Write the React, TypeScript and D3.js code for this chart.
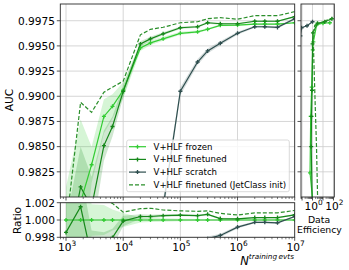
import React, { useEffect, useRef } from 'react';
import * as d3 from 'd3';

// training set sizes
const nTrain = [1e3, 1.8e3, 2.8e3, 4.6e3, 6.5e3, 1e4, 2e4, 3e4, 5e4, 1e5, 2e5, 3e5, 5e5, 1e6, 2e6, 3e6, 5e6, 1e7];
const aucFrozen = [0.975, 0.9795, 0.9832, 0.988, 0.989, 0.9906, 0.9948, 0.9953, 0.9957, 0.99625, 0.9964, 0.99665, 0.99704, 0.99707, 0.99717, 0.99717, 0.99717, 0.9973];
const stdFrozen = [0.006, 0.0082, 0.0018, 0.0017, 0.0012, 0.0008, 0.0003, 0.00022, 0.0002, 0.00015, 0.00012, 0.0001, 0.0001, 0.0001, 0.00008, 0.00008, 0.00008, 0.00008];
const aucFinetuned = [0.9736, 0.981, 0.979, 0.9851, 0.987, 0.99048, 0.9952, 0.9957, 0.9962, 0.9968, 0.9969, 0.9973, 0.9972, 0.9972, 0.99745, 0.99745, 0.99745, 0.9979];
const stdFinetuned = [0.004, 0.004, 0.003, 0.0015, 0.001, 0.0006, 0.00025, 0.0002, 0.00015, 0.00012, 0.0001, 0.0001, 0.0001, 0.00008, 0.00008, 0.00008, 0.00008, 0.00008];
const aucJetClass = [0.977, 0.9894, 0.9884, 0.9904, 0.9909, 0.9915, 0.9961, 0.99665, 0.99685, 0.9973, 0.9974, 0.9977, 0.9978, 0.99765, 0.998, 0.998, 0.998, 0.9984];
const nScratch = [3e4, 5e4, 1e5, 2e5, 3e5, 5e5, 1e6, 2e6, 3e6, 5e6, 1e7];
const aucScratch = [0.97, 0.979, 0.9905, 0.9934, 0.9945, 0.99526, 0.99625, 0.9969, 0.9969, 0.99684, 0.9977];
const stdScratch = [0.001, 0.0008, 0.0004, 0.0003, 0.00025, 0.0002, 0.00015, 0.0001, 0.0001, 0.0001, 0.0001];

// data efficiency panel (efficiency, AUC)
const deFrozenEff = [1.2, 0.58, 0.67, 0.84, 1.05, 1.2, 2.5, 10, 45];
const deFrozenAuc = [0.979, 0.9824, 0.988, 0.9909, 0.9946, 0.9954, 0.9971, 0.99725, 0.9973];
const deFinetunedEff = [0.95, 0.75, 0.8, 0.9, 1.0, 1.1, 3, 15, 70];
const deFinetunedAuc = [0.979, 0.985, 0.988, 0.9906, 0.9952, 0.9963, 0.99725, 0.9974, 0.9977];
const deJetClassEff = [3.2, 2.4, 1.7, 1.3, 1.15, 1.6, 6, 30, 90];
const deJetClassAuc = [0.979, 0.985, 0.99, 0.994, 0.9962, 0.997, 0.9973, 0.9976, 0.9978];
const deScratchEff = [0.07, 0.09, 0.3, 1.0];
const deScratchAuc = [0.996, 0.9968, 0.997, 0.9974];

// ticks
const aucTicks = [0.9825, 0.985, 0.9875, 0.99, 0.9925, 0.995, 0.9975];
const ratioTicks = [0.998, 1.0, 1.002];
const nTickExp = [3, 4, 5, 6, 7];
const deTickExp = [-1, 0, 1, 2];
const deLabelExp = [0, 2];

const cFrozen = '#33cc33';
const cFinetuned = '#16881a';
const cJetClass = '#2b8f2b';
const cScratch = '#2f4f4f';
const font = "'DejaVu Sans', sans-serif";

const App = () => {
  const ref = useRef<SVGSVGElement>(null);

  useEffect(() => {
    drawChart();
    return () => {
      d3.select(ref.current).selectAll('*').remove();
    };
  }, []);

  const drawChart = () => {
    const svg = d3.select(ref.current);
    svg.selectAll('*').remove();

    const main = { x0: 60.3, x1: 294.7, y0: 4, y1: 197 };
    const rat = { x0: 60.3, x1: 294.7, y0: 202.7, y1: 237.3 };
    const de = { x0: 301, x1: 334.3, y0: 4, y1: 197 };

    const x = d3.scaleLog().domain([10 ** 2.9, 1e7]).range([main.x0, main.x1]);
    const y = d3.scaleLinear().domain([0.98, 0.99916]).range([main.y1, main.y0]);
    const yr = d3.scaleLinear().domain([0.998, 1.002]).range([rat.y1, rat.y0]);
    const xd = d3.scaleLog().domain([10 ** -1.1, 10 ** 2.08]).range([de.x0, de.x1]);

    const defs = svg.append('defs');
    const clip = (id: string, p: any) =>
      defs.append('clipPath').attr('id', id).append('rect')
        .attr('x', p.x0).attr('y', p.y0).attr('width', p.x1 - p.x0).attr('height', p.y1 - p.y0);
    clip('clipMain', main);
    clip('clipRat', rat);
    clip('clipDe', de);

    const gridColor = '#cbcbcb';

    // grids
    const gMain = svg.append('g').attr('clip-path', 'url(#clipMain)');
    const gRat = svg.append('g').attr('clip-path', 'url(#clipRat)');
    const gDe = svg.append('g').attr('clip-path', 'url(#clipDe)');

    aucTicks.forEach(t => {
      [[main, gMain], [de, gDe]].forEach(([p, g]: any) => {
        g.append('line').attr('x1', p.x0).attr('x2', p.x1).attr('y1', y(t)).attr('y2', y(t))
          .attr('stroke', gridColor).attr('stroke-width', 0.8);
      });
    });
    ratioTicks.forEach(t => {
      gRat.append('line').attr('x1', rat.x0).attr('x2', rat.x1).attr('y1', yr(t)).attr('y2', yr(t))
        .attr('stroke', gridColor).attr('stroke-width', 0.8);
    });
    nTickExp.forEach(e => {
      gMain.append('line').attr('x1', x(10 ** e)).attr('x2', x(10 ** e)).attr('y1', main.y0).attr('y2', main.y1)
        .attr('stroke', gridColor).attr('stroke-width', 0.8);
      gRat.append('line').attr('x1', x(10 ** e)).attr('x2', x(10 ** e)).attr('y1', rat.y0).attr('y2', rat.y1)
        .attr('stroke', gridColor).attr('stroke-width', 0.8);
    });
    deTickExp.forEach(e => {
      gDe.append('line').attr('x1', xd(10 ** e)).attr('x2', xd(10 ** e)).attr('y1', de.y0).attr('y2', de.y1)
        .attr('stroke', gridColor).attr('stroke-width', 0.8);
    });

    const frozenAt = (n: number) => aucFrozen[nTrain.indexOf(n)];

    type Pt = { n: number; v: number; s: number };
    const mk = (ns: number[], vs: number[], ss: number[] | null): Pt[] =>
      ns.map((n, i) => ({ n, v: vs[i], s: ss ? ss[i] : 0 }));

    const frozen = mk(nTrain, aucFrozen, stdFrozen);
    const finetuned = mk(nTrain, aucFinetuned, stdFinetuned);
    const jetclass = mk(nTrain, aucJetClass, null);
    const scratch = mk(nScratch, aucScratch, stdScratch);

    const bandMain = d3.area<Pt>().x(d => x(d.n)).y0(d => y(d.v - d.s)).y1(d => y(d.v + d.s));
    const lineMain = d3.line<Pt>().x(d => x(d.n)).y(d => y(d.v));
    const bandRat = d3.area<Pt>().x(d => x(d.n))
      .y0(d => yr((d.v - d.s) / frozenAt(d.n))).y1(d => yr((d.v + d.s) / frozenAt(d.n)));
    const lineRat = d3.line<Pt>().x(d => x(d.n)).y(d => yr(d.v / frozenAt(d.n)));

    const cross = d3.symbol().type(d3.symbolCross).size(9);

    const series = [
      { pts: frozen, color: cFrozen, band: true, dash: null, markers: true },
      { pts: finetuned, color: cFinetuned, band: true, dash: null, markers: true },
      { pts: scratch, color: cScratch, band: true, dash: null, markers: true },
      { pts: jetclass, color: cJetClass, band: false, dash: '4,2', markers: false },
    ];

    // bands first
    series.forEach(s => {
      if (!s.band) return;
      gMain.append('path').attr('d', bandMain(s.pts)).attr('fill', s.color).attr('fill-opacity', 0.2);
      gRat.append('path').attr('d', bandRat(s.pts)).attr('fill', s.color).attr('fill-opacity', 0.2);
    });

    series.forEach(s => {
      [[gMain, lineMain, (d: Pt) => y(d.v)], [gRat, lineRat, (d: Pt) => yr(d.v / frozenAt(d.n))]].forEach(([g, ln, yy]: any) => {
        g.append('path').attr('d', ln(s.pts)).attr('fill', 'none').attr('stroke', s.color)
          .attr('stroke-width', 1.2).attr('stroke-dasharray', s.dash);
        if (s.markers) {
          g.selectAll(null).data(s.pts).enter().append('path')
            .attr('d', cross).attr('transform', (d: Pt) => `translate(${x(d.n)},${yy(d)})`)
            .attr('fill', s.color);
        }
      });
    });

    // data efficiency panel
    type DPt = { e: number; v: number };
    const deLine = d3.line<DPt>().x(d => xd(d.e)).y(d => y(d.v));
    const deSeries = [
      { eff: deScratchEff, auc: deScratchAuc, color: cScratch, dash: null, markers: true },
      { eff: deFrozenEff, auc: deFrozenAuc, color: cFrozen, dash: null, markers: true },
      { eff: deFinetunedEff, auc: deFinetunedAuc, color: cFinetuned, dash: null, markers: true },
      { eff: deJetClassEff, auc: deJetClassAuc, color: cJetClass, dash: '4,2', markers: false },
    ];
    deSeries.forEach(s => {
      const pts = s.eff.map((e, i) => ({ e, v: s.auc[i] }));
      gDe.append('path').attr('d', deLine(pts)).attr('fill', 'none').attr('stroke', s.color)
        .attr('stroke-width', 1.2).attr('stroke-dasharray', s.dash);
      if (s.markers) {
        gDe.selectAll(null).data(pts).enter().append('path')
          .attr('d', cross).attr('transform', d => `translate(${xd(d.e)},${y(d.v)})`)
          .attr('fill', s.color);
      }
    });

    // frames
    const frame = '#2a2a2a';
    [main, rat, de].forEach(p => {
      svg.append('rect').attr('x', p.x0).attr('y', p.y0).attr('width', p.x1 - p.x0).attr('height', p.y1 - p.y0)
        .attr('fill', 'none').attr('stroke', frame).attr('stroke-width', 0.9);
    });

    // y ticks
    const tickLab = svg.append('g').attr('font-family', font).attr('font-size', 10.6).attr('fill', '#000');
    aucTicks.forEach(t => {
      svg.append('line').attr('x1', main.x0 - 3.5).attr('x2', main.x0).attr('y1', y(t)).attr('y2', y(t))
        .attr('stroke', frame).attr('stroke-width', 0.8);
      svg.append('line').attr('x1', de.x0 - 3.5).attr('x2', de.x0).attr('y1', y(t)).attr('y2', y(t))
        .attr('stroke', frame).attr('stroke-width', 0.8);
      tickLab.append('text').attr('x', 55).attr('y', y(t)).attr('dy', '0.36em').attr('text-anchor', 'end')
        .text(d3.format('.4f')(t));
    });
    ratioTicks.forEach(t => {
      svg.append('line').attr('x1', rat.x0 - 3.5).attr('x2', rat.x0).attr('y1', yr(t)).attr('y2', yr(t))
        .attr('stroke', frame).attr('stroke-width', 0.8);
      tickLab.append('text').attr('x', 55).attr('y', yr(t)).attr('dy', '0.36em').attr('text-anchor', 'end')
        .text(d3.format('.3f')(t));
    });

    // x ticks (major + minor)
    const xTicks = (sc: any, lo: number, hi: number, yb: number) => {
      for (let e = lo; e <= hi; e++) {
        for (let m = 1; m < 10; m++) {
          const v = m * 10 ** e;
          const [d0, d1] = sc.domain();
          if (v < d0 * 0.999 || v > d1 * 1.001) continue;
          svg.append('line').attr('x1', sc(v)).attr('x2', sc(v)).attr('y1', yb).attr('y2', yb + (m === 1 ? 3.5 : 2))
            .attr('stroke', frame).attr('stroke-width', m === 1 ? 0.8 : 0.6);
        }
      }
    };
    xTicks(x, 2, 7, main.y1);
    xTicks(x, 2, 7, rat.y1);
    xTicks(xd, -2, 2, de.y1);

    const powLabel = (xx: number, yy: number, e: number) => {
      const t = tickLab.append('text').attr('x', xx).attr('y', yy).attr('text-anchor', 'middle');
      t.append('tspan').text('10');
      t.append('tspan').attr('dy', -4.6).attr('font-size', 7.4).text(String(e));
    };
    nTickExp.forEach(e => powLabel(x(10 ** e) + 1, 250.5, e));
    deLabelExp.forEach(e => powLabel(xd(10 ** e) + 1, 210, e));

    // axis labels
    svg.append('text').attr('transform', 'translate(8.7,100) rotate(-90)').attr('text-anchor', 'middle')
      .attr('dy', '0.36em').attr('font-family', font).attr('font-size', 10.6).text('AUC');
    svg.append('text').attr('transform', 'translate(16.7,220.5) rotate(-90)').attr('text-anchor', 'middle')
      .attr('dy', '0.36em').attr('font-family', font).attr('font-size', 10.6).text('Ratio');

    const xl = svg.append('text').attr('x', 294).attr('y', 264.5).attr('text-anchor', 'end')
      .attr('font-family', font).attr('font-style', 'italic').attr('font-size', 11.5);
    xl.append('tspan').text('N');
    xl.append('tspan').attr('dy', -6).attr('font-size', 7.3).text('training\u2009evts');

    const deLab = svg.append('g').attr('font-family', font).attr('font-size', 9.3).attr('text-anchor', 'middle');
    deLab.append('text').attr('x', 319).attr('y', 223.3).text('Data');
    deLab.append('text').attr('x', 319.5).attr('y', 233.3).text('Efficiency');

    // legend
    const lg = svg.append('g');
    lg.append('rect').attr('x', 126.7).attr('y', 140).attr('width', 162.6).attr('height', 51.7).attr('rx', 2)
      .attr('fill', '#fff').attr('fill-opacity', 0.8).attr('stroke', '#d0d0d0').attr('stroke-width', 0.8);
    const entries = [
      { label: 'V+HLF frozen', color: cFrozen, dash: null, markers: true },
      { label: 'V+HLF finetuned', color: cFinetuned, dash: null, markers: true },
      { label: 'V+HLF scratch', color: cScratch, dash: null, markers: true },
      { label: 'V+HLF finetuned (JetClass init)', color: cJetClass, dash: '4,2', markers: false },
    ];
    entries.forEach((en, i) => {
      const yy = 146.7 + i * 12.7;
      lg.append('line').attr('x1', 129).attr('x2', 146).attr('y1', yy).attr('y2', yy)
        .attr('stroke', en.color).attr('stroke-width', 1.2).attr('stroke-dasharray', en.dash);
      if (en.markers) lg.append('path').attr('d', cross).attr('transform', `translate(137.5,${yy})`).attr('fill', en.color);
      lg.append('text').attr('x', 153.5).attr('y', yy).attr('dy', '0.36em').attr('font-family', font)
        .attr('font-size', 8.6).text(en.label);
    });
  };

  return (
    <svg ref={ref} width={349} height={270}
      style={{ position: 'absolute', left: 0, top: 0, background: '#fff' }} />
  );
};

export default App;
